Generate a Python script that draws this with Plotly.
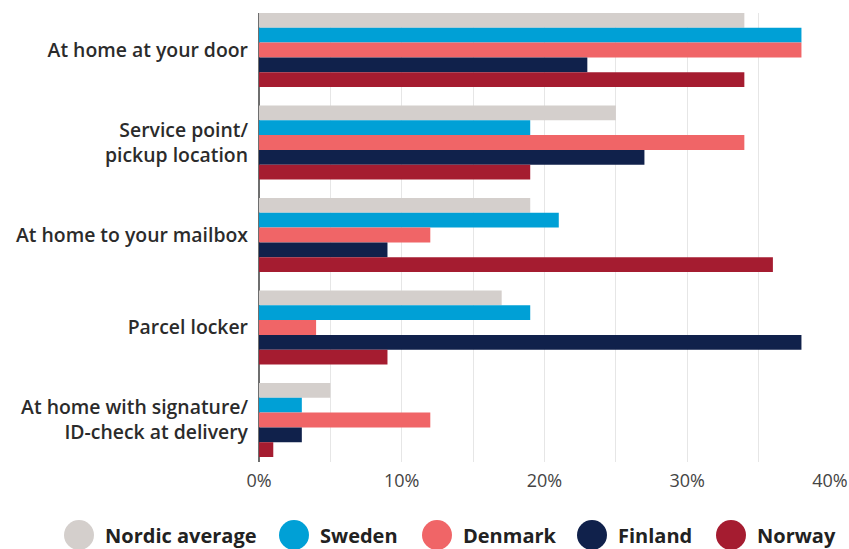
import plotly.graph_objects as go

# Preferred delivery location by country (% of respondents)
categories = [
    "At home at your door",
    "Service point/<br>pickup location",
    "At home to your mailbox",
    "Parcel locker",
    "At home with signature/<br>ID-check at delivery",
]
series_names = ["Nordic average", "Sweden", "Denmark", "Finland", "Norway"]
nordic_average = [34, 25, 19, 17, 5]
sweden = [38, 19, 21, 19, 3]
denmark = [38, 34, 12, 4, 12]
finland = [23, 27, 9, 38, 3]
norway = [34, 19, 36, 9, 1]
series_values = [nordic_average, sweden, denmark, finland, norway]
colors = ["#d4cfcc", "#00a0d6", "#f06567", "#10214b", "#a51c30"]
x_ticks = [0, 10, 20, 30, 40]
x_tick_labels = ["0%", "10%", "20%", "30%", "40%"]

FONT = "Open Sans"
W, H = 849, 549
M_L, M_R, M_T, M_B = 259, 19, 13, 87

fig = go.Figure()
for name, vals, col in zip(series_names, series_values, colors):
    fig.add_trace(go.Bar(
        y=categories, x=vals, name=name, orientation="h",
        marker=dict(color=col, line=dict(width=0)),
        showlegend=False, hoverinfo="x+name",
    ))

fig.update_layout(
    width=W, height=H,
    margin=dict(l=M_L, r=M_R, t=M_T, b=M_B, pad=0, autoexpand=False),
    barmode="group", bargap=0.2, bargroupgap=0,
    paper_bgcolor="white", plot_bgcolor="white",
    font=dict(family=FONT, color="#333333"),
    xaxis=dict(
        range=[0, 40], tickvals=x_ticks, ticktext=x_tick_labels,
        automargin=False,
        showgrid=True, gridcolor="#e6e6e6", gridwidth=1,
        minor=dict(dtick=5, showgrid=True, gridcolor="#e6e6e6", gridwidth=1),
        zeroline=True, zerolinecolor="#6e6e6e", zerolinewidth=2,
        showline=False, ticks="", ticklen=0, ticklabelstandoff=6,
        tickfont=dict(family=FONT, size=18, color="#444444"),
        layer="below traces",
    ),
    yaxis=dict(
        categoryorder="array", categoryarray=categories,
        range=[4.454, -0.4], automargin=False,
        showgrid=False, zeroline=False, showline=False, ticks="",
        ticklabelstandoff=10,
        tickfont=dict(family=FONT, size=19.4, color="#2b2b2b", weight=600),
    ),
)

# Legend drawn as large round swatches with bold labels along the bottom
legend_y = 535
circle_cx = [79, 294, 437, 592, 731]
r = 15
for name, col, cx in zip(series_names, colors, circle_cx):
    fig.add_shape(
        type="circle", xref="paper", yref="paper",
        x0=(cx - r - M_L) / (W - M_L - M_R), x1=(cx + r - M_L) / (W - M_L - M_R),
        y0=(H - M_B - (legend_y + r)) / (H - M_T - M_B),
        y1=(H - M_B - (legend_y - r)) / (H - M_T - M_B),
        fillcolor=col, line=dict(width=0),
    )
    fig.add_annotation(
        text=name, xref="paper", yref="paper",
        x=(cx + r + 9 - M_L) / (W - M_L - M_R),
        y=(H - M_B - legend_y) / (H - M_T - M_B),
        xanchor="left", yanchor="middle", showarrow=False,
        font=dict(family=FONT, size=20, color="#222222", weight=700),
    )

fig.write_html("out.html")
